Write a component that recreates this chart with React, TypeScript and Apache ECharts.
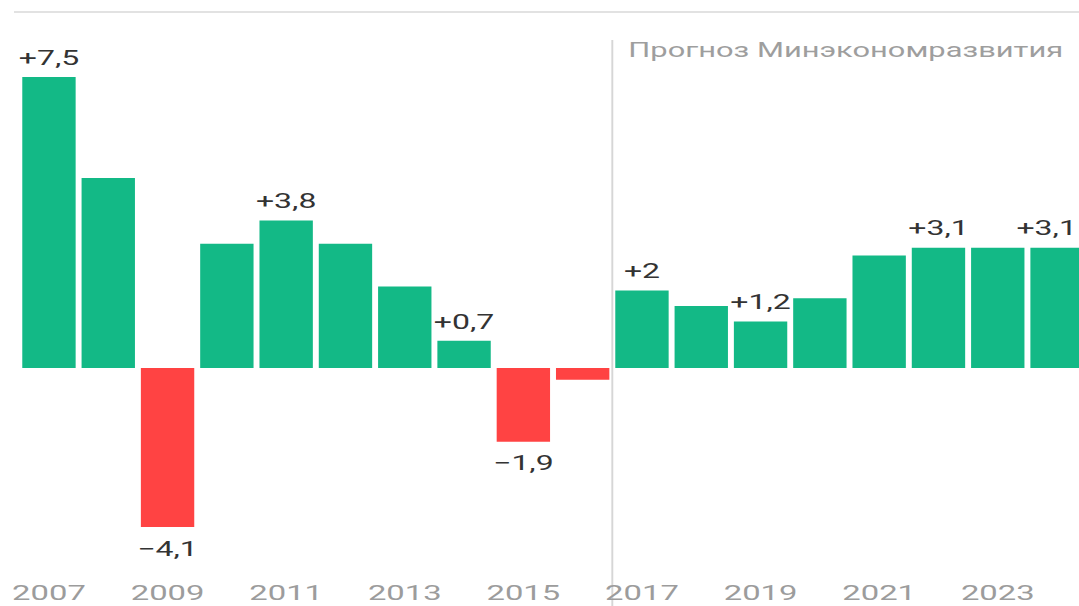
import React, { useEffect, useRef } from "react";
import * as echarts from "echarts";

const years = [
  "2007", "2008", "2009", "2010", "2011", "2012", "2013", "2014", "2015",
  "2016", "2017", "2018", "2019", "2020", "2021", "2022", "2023", "2024",
];
const growth = [7.5, 4.9, -4.1, 3.2, 3.8, 3.2, 2.1, 0.7, -1.9, -0.3, 2, 1.6, 1.2, 1.8, 2.9, 3.1, 3.1, 3.1];
const labeledYears = ["2007", "2009", "2011", "2014", "2015", "2017", "2019", "2022", "2024"];
const forecastNote = "Прогноз Минэкономразвития";
const lastFactYear = "2016";
const firstForecastYear = "2017";

const STRETCH = 1.6;
const FULL_W = 1079;
const FULL_H = 606;
const INNER_W = 680;

const GREEN = "#13b986";
const RED = "#ff4343";

function fmt(v: number): string {
  const s = String(Math.abs(v)).replace(".", ",");
  return (v >= 0 ? "+" : "\u2212") + s;
}

export default function App() {
  const ref = useRef<HTMLDivElement>(null);
  useEffect(() => {
    if (!ref.current) return;
    const chart = echarts.init(ref.current, undefined, { renderer: "svg" });
    chart.setOption({
      animation: false,
      grid: { left: 12.07, right: 0.8, top: 57.6, bottom: 44, containLabel: false },
      xAxis: {
        type: "category",
        data: years,
        axisLine: { show: false },
        axisTick: { show: false },
        splitLine: { show: false },
        axisLabel: {
          interval: 1,
          color: "#9c9c9c",
          fontFamily: "Roboto",
          fontSize: 20.5,
          margin: 21,
        },
      },
      yAxis: {
        type: "value",
        min: -5,
        max: 8,
        show: false,
        splitLine: { show: false },
      },
      series: [
        {
          type: "bar",
          barWidth: "90%",
          data: growth.map((v, i) => ({
            value: v,
            itemStyle: { color: v >= 0 ? GREEN : RED },
            label: {
              show: labeledYears.includes(years[i]),
              position: v >= 0 ? "top" : "bottom",
              distance: v >= 0 ? 9 : 12,
              offset: i === years.length - 1 ? [-6.5, 0] : [0, 0],
            },
          })),
          label: {
            color: "#333333",
            fontFamily: "Roboto",
            fontSize: 20,
            formatter: (p: any) => fmt(p.value),
          },
        },
      ],
    });
    const xa = chart.convertToPixel({ xAxisIndex: 0 }, lastFactYear) as number;
    const xb = chart.convertToPixel({ xAxisIndex: 0 }, firstForecastYear) as number;
    const divX = (xa + xb) / 2;
    chart.setOption({
      graphic: [
        {
          type: "line",
          shape: { x1: 14 / STRETCH, y1: 12, x2: INNER_W, y2: 12 },
          style: { stroke: "#e2e2e2", lineWidth: 2 },
          silent: true,
        },
        {
          type: "line",
          shape: { x1: divX, y1: 40, x2: divX, y2: FULL_H },
          style: { stroke: "#d6d6d6", lineWidth: 1.2 },
          silent: true,
        },
        {
          type: "text",
          x: divX + 10,
          y: 41,
          style: {
            text: forecastNote,
            fill: "#9e9e9e",
            font: "19.3px Roboto",
            textVerticalAlign: "top",
          },
          silent: true,
        },
      ],
    });
    return () => chart.dispose();
  }, []);
  return (
    <div
      style={{
        position: "fixed",
        left: 0,
        top: 0,
        width: FULL_W,
        height: FULL_H,
        overflow: "hidden",
        background: "#ffffff",
      }}
    >
      <div
        ref={ref}
        style={{
          width: INNER_W,
          height: FULL_H,
          transform: `scaleX(${STRETCH})`,
          transformOrigin: "0 0",
        }}
      />
    </div>
  );
}
